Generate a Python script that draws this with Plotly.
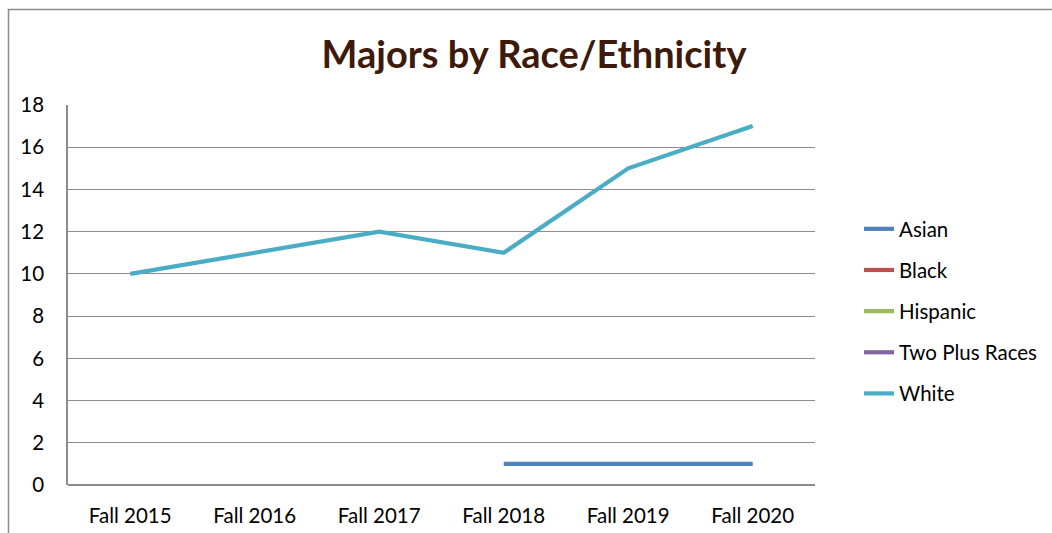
import plotly.graph_objects as go

# Enrollment of majors by race/ethnicity, fall terms
terms = ["Fall 2015", "Fall 2016", "Fall 2017", "Fall 2018", "Fall 2019", "Fall 2020"]
asian = [None, None, None, 1, 1, 1]
black = [None, None, None, None, None, None]
hispanic = [None, None, None, None, None, None]
two_plus = [None, None, None, None, None, None]
white = [10, 11, 12, 11, 15, 17]

series = [
    ("Asian", asian, "#4F81BD"),
    ("Black", black, "#C0504D"),
    ("Hispanic", hispanic, "#9BBB59"),
    ("Two Plus Races", two_plus, "#8064A2"),
    ("White", white, "#4BACC6"),
]

W, H = 1052, 533
ML, MR, MT, MB = 68, 237, 105, 48
PW, PH = W - ML - MR, H - MT - MB

fig = go.Figure()
for i, (name, vals, color) in enumerate(series):
    fig.add_trace(go.Scatter(
        x=terms, y=vals, name=name, mode="lines",
        line=dict(color=color, width=4.2),
        legendgroup=f"g{i}",
        connectgaps=False,
    ))

font_family = "Lato, 'Open Sans', sans-serif"
text_size = 20.5

# outer chart frame (extends past the right and bottom edges)
fig.add_shape(
    type="rect", xref="paper", yref="paper",
    x0=(8.5 - ML) / PW, x1=(1060 - ML) / PW,
    y0=(H - 540 - MB) / PH, y1=(H - 9.5 - MB) / PH,
    line=dict(color="#8C8C8C", width=1.5), fillcolor="rgba(0,0,0,0)", layer="below",
)

fig.update_layout(
    width=W, height=H,
    margin=dict(l=ML, r=MR, t=MT, b=MB, autoexpand=False),
    paper_bgcolor="white", plot_bgcolor="white",
    font=dict(family=font_family, size=text_size, color="#000000"),
    title=dict(
        text="<b>Majors by Race/Ethnicity</b>",
        x=534 / W, xanchor="center", y=1 - 55 / H, yanchor="middle",
        font=dict(family=font_family, size=38, color="#3D1A0B"),
    ),
    showlegend=True,
    legend=dict(
        xref="container", yref="container",
        x=859 / W, xanchor="left", y=1 - 209 / H, yanchor="top",
        traceorder="grouped", tracegroupgap=11.5,
        font=dict(family=font_family, size=text_size, color="#000000"),
        bgcolor="rgba(0,0,0,0)",
    ),
    xaxis=dict(
        range=[-0.5, 5.5], automargin=False,
        showgrid=False, showline=False, zeroline=False,
        ticks="", tickfont=dict(size=text_size), ticklabelstandoff=16,
    ),
    yaxis=dict(
        range=[0, 18], dtick=2, tick0=0, automargin=False,
        showgrid=True, gridcolor="#8C8C8C", gridwidth=1,
        showline=True, linecolor="#8C8C8C", linewidth=1.5,
        zeroline=True, zerolinecolor="#8C8C8C", zerolinewidth=1.5,
        ticks="", tickfont=dict(size=text_size), ticklabelstandoff=18,
    ),
)

fig.write_html("out.html")
